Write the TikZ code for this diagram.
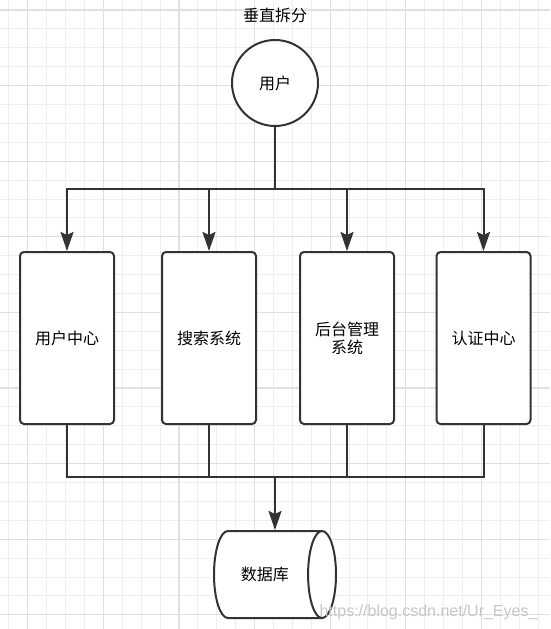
\documentclass[tikz,border=0pt]{standalone}
\usepackage{fontspec}
\setmainfont{Liberation Sans}
\newfontfamily\cjk{Noto Sans CJK SC}
\usetikzlibrary{shapes.geometric,arrows.meta,positioning}

\definecolor{linegray}{HTML}{333333}
\definecolor{gridminor}{HTML}{EEEEEE}
\definecolor{gridmajor}{HTML}{E0E0E0}

\tikzset{
  link/.style={draw=linegray, line width=2pt},
  arr/.style={-{Stealth[length=19pt,width=13pt,inset=3pt]}},
  service/.style={draw=linegray, line width=2pt, rounded corners=4pt, fill=white,
    minimum width=94pt, minimum height=172pt, align=center, inner sep=2pt,
    font=\cjk\fontsize{16}{18}\selectfont},
  person/.style={circle, draw=linegray, line width=2pt, fill=white, minimum size=86pt,
    font=\cjk\fontsize{16}{18}\selectfont},
  store/.style={cylinder, draw=linegray, line width=2pt, fill=white, aspect=1.3,
    minimum height=122pt, minimum width=87pt, font=\cjk\fontsize{16}{18}\selectfont}
}

\begin{document}
\begin{tikzpicture}[x=1pt,y=-1pt]
\useasboundingbox (0,0) rectangle (550,629);
\fill[white] (0,0) rectangle (550,629);

% Background grid
\foreach \i in {0,...,29}
    \draw[gridminor, line width=1pt] (8.8+18.9*\i,0) -- (8.8+18.9*\i,629);
\foreach \i in {0,...,33}
    \draw[gridminor, line width=1pt] (0,10+18.9*\i) -- (550,10+18.9*\i);
\foreach \i in {0,...,6}
    \draw[gridmajor, line width=1.2pt] (27.7+75.6*\i,0) -- (27.7+75.6*\i,629);
\foreach \i in {0,...,8}
    \draw[gridmajor, line width=1.2pt] (0,10+75.6*\i) -- (550,10+75.6*\i);

% Title and user
\node[font=\cjk\fontsize{16}{18}\selectfont] (title) at (275,15) {垂直拆分};
\node[person] (user) at (275,83) {用户};

% Services
\node[service] (uc) at (67,338) {用户中心};
\node[service] (search) at (209,338) {搜索系统};
\node[service] (admin) at (347,338) {后台管理\\系统};
\node[service] (auth) at (483.5,338) {认证中心};

% Database
\node[store, anchor=shape center] (db) at (275,574.5) {数据库};

% Connectors
\coordinate (split) at (275,189);
\coordinate (merge) at (275,477);
\draw[link] (user) -- (split);
\foreach \s in {uc,search,admin,auth}
    \draw[link,arr] (split) -| (\s);
\foreach \s in {uc,search,admin,auth}
    \draw[link] (\s) |- (merge);
\draw[link,arr] (merge) -- (merge |- db.north);

% Watermark
\node[anchor=east, text=black!22, font=\fontsize{16}{18}\selectfont] (mark) at (541,612) {https://blog.csdn.net/Ur\_Eyes\_};
\end{tikzpicture}
\end{document}
